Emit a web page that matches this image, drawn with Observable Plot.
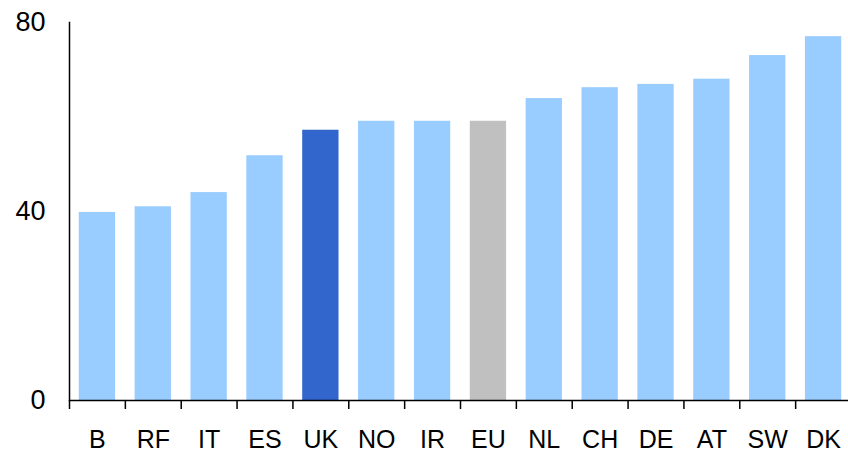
<!DOCTYPE html>
<html>
<head>
<meta charset="utf-8">
<script src="https://cdn.jsdelivr.net/npm/d3@7"></script>
<script src="https://cdn.jsdelivr.net/npm/@observablehq/plot@0.6"></script>
<style>
  html, body { margin: 0; padding: 0; background: #fff; }
  #chart svg { display: block; }
</style>
</head>
<body>
<div id="chart"></div>
<script>
const categories = ["B", "RF", "IT", "ES", "UK", "NO", "IR", "EU", "NL", "CH", "DE", "AT", "SW", "DK"];
const values = [39.8, 41.0, 44.0, 51.8, 57.2, 59.1, 59.1, 59.1, 63.9, 66.2, 66.9, 68.0, 73.0, 77.0];
const groups = ["other", "other", "other", "other", "UK", "other", "other", "EU", "other", "other", "other", "other", "other", "other"];
const yTicks = [0, 40, 80];

const data = categories.map((c, i) => ({cat: c, value: values[i], group: groups[i]}));

const width = 848, height = 453;
const marginLeft = 69, marginRight = -3, marginTop = 22, marginBottom = 53;
const step = (width - marginLeft - marginRight) / categories.length;

const chart = Plot.plot({
  width, height, marginLeft, marginRight, marginTop, marginBottom,
  style: {fontFamily: "'Liberation Sans', Arial, sans-serif", fontSize: "25px", color: "#000", background: "#fff"},
  x: {domain: categories, paddingInner: 0.35, paddingOuter: 0.175, align: 0.5, round: false, label: null},
  y: {domain: [0, 80], label: null},
  color: {domain: ["other", "UK", "EU"], range: ["#99CCFF", "#3366CC", "#C0C0C0"]},
  marks: [
    Plot.barY(data, {x: "cat", y: "value", fill: "group"}),
    Plot.ruleY([0], {stroke: "#000", strokeWidth: 1.5}),
    Plot.frame({anchor: "left", stroke: "#000", strokeWidth: 1.5}),
    Plot.axisX({tickSize: 9, tickFormat: () => "", dx: -step / 2, stroke: "#000", strokeWidth: 1.5, label: null}),
    Plot.axisX({tickSize: 0, tickPadding: 29.5, fontSize: 25, label: null}),
    Plot.axisY({ticks: yTicks, tickSize: 0, tickPadding: 24, fontSize: 27, label: null})
  ]
});
document.getElementById("chart").appendChild(chart);
</script>
</body>
</html>
